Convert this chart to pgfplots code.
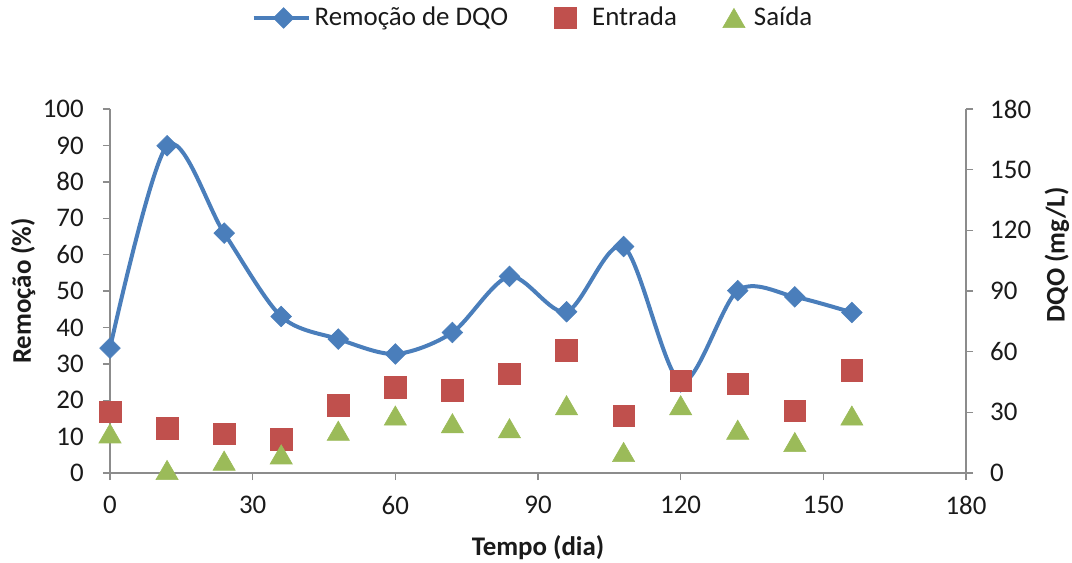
\documentclass[border=0pt]{standalone}
\usepackage{fontspec}
\setmainfont{Carlito}
\usepackage{pgfplots}
\usepackage{pgfplotstable}
\pgfplotsset{compat=1.18}

\definecolor{remblue}{HTML}{4A7EBB}
\definecolor{entred}{HTML}{C0504D}
\definecolor{saigreen}{HTML}{9BBB59}
\definecolor{axgray}{HTML}{8C8C8C}
\definecolor{txt}{HTML}{1A1A1A}

% COD removal (%) and COD in/out (mg/L) against time (days)
\pgfplotstableread{
dia remocao
0   34.3
12  89.9
24  65.9
36  43.0
48  36.8
60  32.7
72  38.6
84  54.0
96  44.3
108 62.2
120 25.0
132 50.1
144 48.4
156 44.1
}\remocao

\pgfplotstableread{
dia entrada
0   30.3
12  22.1
24  19.3
36  16.6
48  33.6
60  42.4
72  41.0
84  49.1
96  60.8
108 28.2
120 45.5
132 44.2
144 30.7
156 50.9
}\entrada

\pgfplotstableread{
dia saida
0   19.6
12  1.5
24  6.1
36  9.2
48  20.9
60  28.4
72  24.6
84  22.1
96  33.5
108 10.4
120 33.5
132 21.4
144 15.3
156 28.4
}\saida

\newcommand{\lblfont}{\fontsize{13.5}{16}\selectfont}

\pgfplotsset{
  common/.style={
    scale only axis, width=428bp, height=182bp,
    at={(0,0)}, anchor=south west,
    xmin=0, xmax=180,
    axis line style={draw=axgray, line width=0.7bp, -},
    tick style={draw=axgray, line width=0.7bp},
    tick align=outside, major tick length=3.6bp,
    tick label style={font=\lblfont, text=txt},
    label style={font=\lblfont\bfseries, text=txt},
    /pgf/number format/assume math mode=true,
  },
  remstyle/.style={remblue, line width=2bp,
    mark=square*, mark size=3.65bp,
    mark options={solid, rotate=45, fill=remblue, draw=remblue, line width=0.3bp}},
  lineleg/.style={legend image code/.code={
    \draw[##1, mark repeat=2, mark phase=2]
      plot coordinates {(0bp,0bp) (15bp,0bp) (27.5bp,0bp)};}},
  squareleg/.style={legend image code/.code={
    \path[draw=none, fill=none] (0bp,0bp) rectangle (17bp,0.1bp);
    \draw[##1] plot coordinates {(5.5bp,0bp)};}},
  triangleleg/.style={legend image code/.code={
    \path[draw=none, fill=none] (0bp,0bp) rectangle (13.5bp,0.1bp);
    \draw[##1] plot coordinates {(5.5bp,0bp)};}},
}

\begin{document}
\begin{tikzpicture}
\useasboundingbox (-55bp,-45bp) rectangle (481bp,236.5bp);

% left axis: removal (%)
\begin{axis}[common,
  ymin=0, ymax=100,
  axis x line*=bottom, axis y line*=left,
  xtick={0,30,...,180}, ytick={0,10,...,100},
  xticklabel style={yshift=-4.5bp},
  yticklabel style={xshift=-6bp},
  xlabel={Tempo (dia)}, ylabel={Remoção (\%)},
  xlabel style={at={(axis description cs:0.5,-0.206)}, anchor=center},
  ylabel style={at={(axis description cs:-0.1016,0.5)}, anchor=center},
]
\addplot[remstyle, smooth, tension=0.5]
  table[x=dia, y=remocao] {\remocao};
\end{axis}

% right axis: COD (mg/L)
\begin{axis}[common,
  ymin=0, ymax=180,
  axis x line=none, axis y line*=right,
  ytick={0,30,...,180},
  yticklabel style={xshift=5bp},
  ylabel={DQO (mg/L)},
  ylabel style={at={(axis description cs:1.1063,0.599)}, anchor=center, rotate=0},
  legend columns=3,
  legend cell align=left,
  legend style={at={(axis description cs:0.5,1.25)}, anchor=center, xshift=-2bp,
    draw=none, fill=none, font=\lblfont, text=txt,
    /tikz/every even column/.append style={column sep=21bp}},
]
\addlegendimage{remstyle, lineleg}
\addlegendentry{Remoção de DQO}

\addplot[only marks, mark=square*, mark size=5.4bp, squareleg,
  mark options={fill=entred, draw=entred, line width=0.3bp}]
  table[x=dia, y=entrada] {\entrada};
\addlegendentry{Entrada}

\addplot[only marks, mark=triangle*, mark size=6.4bp, triangleleg,
  mark options={fill=saigreen, draw=saigreen, line width=0.3bp, yshift=-1.6bp}]
  table[x=dia, y=saida] {\saida};
\addlegendentry{Saída}
\end{axis}
\end{tikzpicture}
\end{document}
